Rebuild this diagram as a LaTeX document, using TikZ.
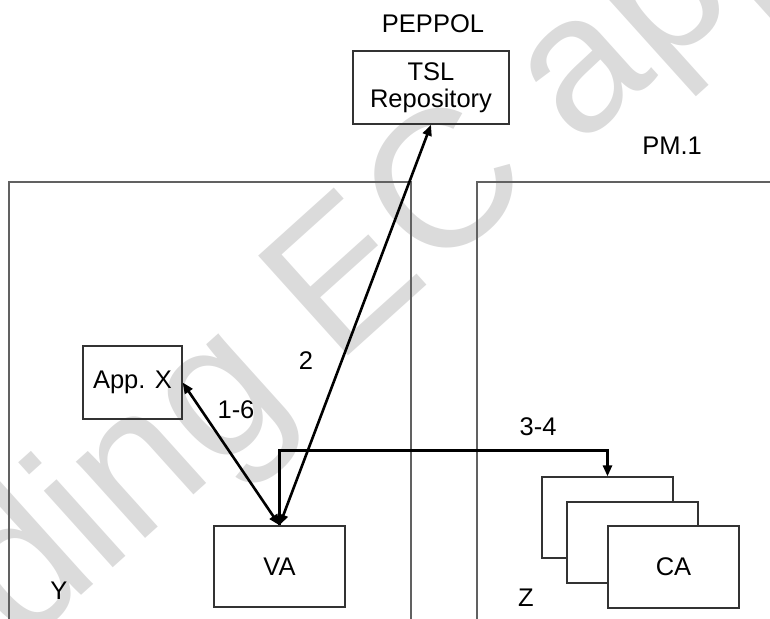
\documentclass[tikz,border=0pt]{standalone}
\usepackage{fontspec}
\setmainfont{Liberation Sans}
\usetikzlibrary{arrows.meta}
\begin{document}
\begin{tikzpicture}[x=1pt,y=-1pt,
  box/.style={draw=black!80,line width=1.3pt,inner sep=0pt,align=center},
  cabox/.style={box,fill=white,minimum width=131pt,minimum height=81pt},
  frame/.style={draw=black!62,line width=1.3pt},
  tip/.tip={Triangle[length=11pt,width=9pt]},
  link/.style={line width=2.6pt,-tip},
  both/.style={line width=2.6pt,tip-tip},
  lbl/.style={inner sep=0pt},
  font=\fontsize{25.5}{27}\selectfont]
\clip (0,0) rectangle (770,618);

% draft watermark behind everything
\node[inner sep=0pt,anchor=base west,rotate=42,text=black!14,
      font=\fontsize{195}{195}\selectfont] (wm) at (-235,881) {Pending EC approval};

% the two domains
\draw[frame] (9,182) rectangle (411,640);
\draw[frame] (477,182) rectangle (790,640);

% boxes
\node[box,minimum width=156pt,minimum height=73pt] (tsl) at (431,87.5) {TSL\\Repository};
\node[box,minimum width=99pt,minimum height=73pt] (appx) at (132.5,382.5) {App. X};
\node[box,minimum width=131pt,minimum height=81pt] (va) at (279.5,566.5) {VA};
\node[cabox] (ca1) at (607.5,517.5) {};
\node[cabox] (ca2) at (632.5,542.5) {};
\node[cabox,minimum height=82pt] (ca3) at (673.5,567) {CA};

% free labels
\node[lbl] (peppol) at (433,24) {PEPPOL};
\node[lbl] (pm) at (672,146) {PM.1};
\node[lbl] (y) at (59,591) {Y};
\node[lbl] (z) at (526,598) {Z};

% connectors
\draw[both] (appx.east) -- (va.north);
\draw[both] (va.north) -- (tsl.south);
\draw[link] (va.north) -- ++(0,-75) -| (ca1.north);

% connector labels
\node[lbl] (l16) at (236,410) {1-6};
\node[lbl] (l2) at (306,361) {2};
\node[lbl] (l34) at (538,427) {3-4};
\end{tikzpicture}
\end{document}
